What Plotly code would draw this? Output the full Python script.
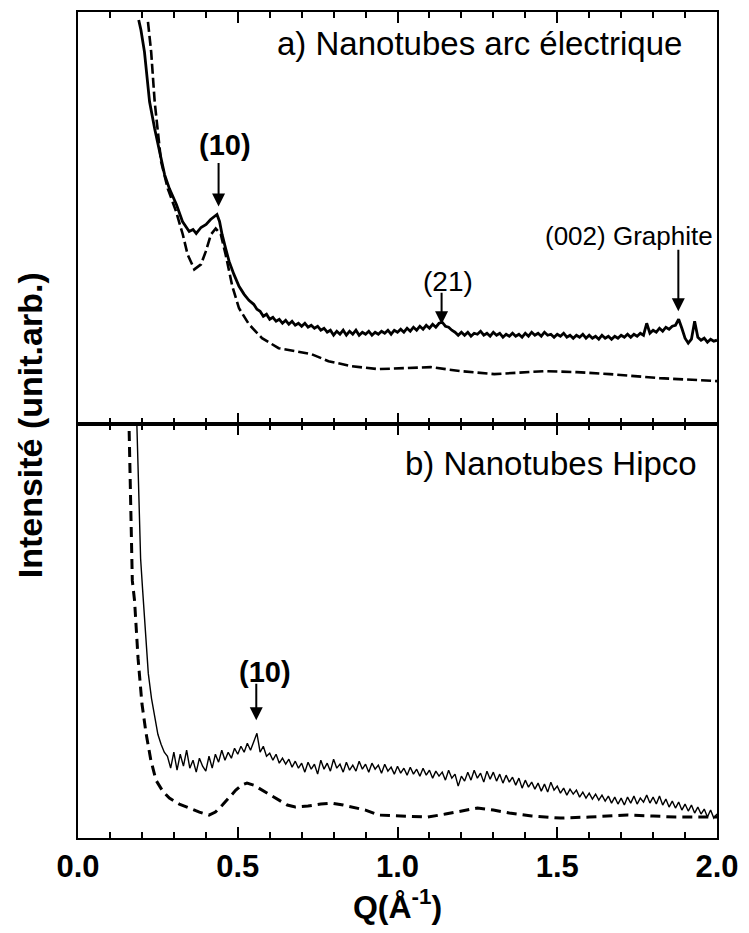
import plotly.graph_objects as go

# ---------------- DATA (arbitrary intensity units) ----------------
# Panel a) arc nanotubes : measured (solid, noisy) and calculated (dashed)
qa_solid_start = [0.190, 0.197, 0.208, 0.224, 0.240, 0.255, 0.271, 0.286, 0.308, 0.327,
                  0.348, 0.360, 0.370, 0.385, 0.401, 0.415, 0.426, 0.435, 0.443, 0.451,
                  0.462, 0.473, 0.488, 0.504, 0.520, 0.535]
ia_solid_start = [405, 395, 373, 323, 296, 273, 250, 236, 220, 203,
                  193, 195, 191, 197, 200, 205, 208, 210, 203, 190,
                  176, 163, 150, 138, 130, 124]
qa_solid_dense = [0.55, 0.56, 0.57, 0.58, 0.59, 0.60, 0.61, 0.62, 0.63, 0.64,
                  0.65, 0.66, 0.67, 0.68, 0.69, 0.70, 0.71, 0.72, 0.73, 0.74,
                  0.75, 0.76, 0.77, 0.78, 0.79, 0.80, 0.81, 0.82, 0.83, 0.84,
                  0.85, 0.86, 0.87, 0.88, 0.89, 0.90, 0.91, 0.92, 0.93, 0.94,
                  0.95, 0.96, 0.97, 0.98, 0.99, 1.00, 1.01, 1.02, 1.03, 1.04,
                  1.05, 1.06, 1.07, 1.08, 1.09, 1.10, 1.11, 1.12, 1.13, 1.14,
                  1.15, 1.16, 1.17, 1.18, 1.19, 1.20, 1.21, 1.22, 1.23, 1.24,
                  1.25, 1.26, 1.27, 1.28, 1.29, 1.30, 1.31, 1.32, 1.33, 1.34,
                  1.35, 1.36, 1.37, 1.38, 1.39, 1.40, 1.41, 1.42, 1.43, 1.44,
                  1.45, 1.46, 1.47, 1.48, 1.49, 1.50, 1.51, 1.52, 1.53, 1.54,
                  1.55, 1.56, 1.57, 1.58, 1.59, 1.60, 1.61, 1.62, 1.63, 1.64,
                  1.65, 1.66, 1.67, 1.68, 1.69, 1.70, 1.71, 1.72, 1.73, 1.74,
                  1.75, 1.76, 1.77, 1.78, 1.79, 1.80, 1.81, 1.82, 1.83, 1.84,
                  1.85, 1.86, 1.87, 1.88, 1.89, 1.90, 1.91, 1.92, 1.93, 1.94,
                  1.95, 1.96, 1.97, 1.98, 1.99, 2.00]
ia_solid_dense = [120, 115, 113, 108, 110, 105, 107, 103, 105, 101,
                  104, 100, 103, 99, 101, 98, 101, 97, 99, 96,
                  98, 94, 96, 92, 94, 89, 93, 90, 94, 89,
                  93, 90, 94, 89, 92, 90, 93, 89, 92, 90,
                  93, 91, 94, 90, 94, 92, 95, 92, 96, 93,
                  97, 94, 98, 95, 99, 96, 100, 97, 101, 102,
                  98, 97, 94, 92, 89, 92, 89, 92, 88, 91,
                  90, 93, 89, 91, 88, 92, 89, 91, 87, 90,
                  88, 91, 88, 90, 87, 91, 88, 92, 89, 91,
                  88, 92, 89, 90, 87, 90, 88, 91, 87, 89,
                  86, 89, 87, 90, 86, 89, 86, 88, 85, 89,
                  86, 88, 85, 88, 86, 89, 87, 90, 87, 90,
                  88, 91, 89, 101, 91, 94, 92, 96, 93, 97,
                  95, 98, 99, 105, 96, 86, 81, 85, 103, 87,
                  84, 86, 82, 85, 83, 84]
qa_dashed = [0.219, 0.229, 0.240, 0.250, 0.260, 0.281, 0.307, 0.328, 0.343, 0.364,
             0.385, 0.400, 0.416, 0.431, 0.447, 0.462, 0.483, 0.504, 0.535, 0.576,
             0.628, 0.681, 0.731, 0.784, 0.855, 0.939, 1.023, 1.104, 1.198, 1.303,
             1.459, 1.561, 1.664, 1.820, 2.000]
ia_dashed = [403, 373, 323, 290, 263, 236, 213, 190, 170, 155,
             160, 173, 190, 196, 190, 170, 138, 116, 100, 86,
             76, 73, 70, 63, 58, 55, 56, 57, 53, 50,
             53, 52, 50, 46, 43]

# Panel b) HiPco nanotubes
qb_solid_start = [0.182, 0.190, 0.196, 0.202, 0.208, 0.214, 0.220, 0.230, 0.240, 0.250,
                  0.260, 0.270]
ib_solid_start = [440, 340, 280, 250, 220, 190, 165, 140, 120, 104,
                  94, 86]
qb_solid_dense = [0.28, 0.29, 0.30, 0.31, 0.32, 0.33, 0.34, 0.35, 0.36, 0.37,
                  0.38, 0.39, 0.40, 0.41, 0.42, 0.43, 0.44, 0.45, 0.46, 0.47,
                  0.48, 0.49, 0.50, 0.51, 0.52, 0.53, 0.54, 0.55, 0.56, 0.57,
                  0.58, 0.59, 0.60, 0.61, 0.62, 0.63, 0.64, 0.65, 0.66, 0.67,
                  0.68, 0.69, 0.70, 0.71, 0.72, 0.73, 0.74, 0.75, 0.76, 0.77,
                  0.78, 0.79, 0.80, 0.81, 0.82, 0.83, 0.84, 0.85, 0.86, 0.87,
                  0.88, 0.89, 0.90, 0.91, 0.92, 0.93, 0.94, 0.95, 0.96, 0.97,
                  0.98, 0.99, 1.00, 1.01, 1.02, 1.03, 1.04, 1.05, 1.06, 1.07,
                  1.08, 1.09, 1.10, 1.11, 1.12, 1.13, 1.14, 1.15, 1.16, 1.17,
                  1.18, 1.19, 1.20, 1.21, 1.22, 1.23, 1.24, 1.25, 1.26, 1.27,
                  1.28, 1.29, 1.30, 1.31, 1.32, 1.33, 1.34, 1.35, 1.36, 1.37,
                  1.38, 1.39, 1.40, 1.41, 1.42, 1.43, 1.44, 1.45, 1.46, 1.47,
                  1.48, 1.49, 1.50, 1.51, 1.52, 1.53, 1.54, 1.55, 1.56, 1.57,
                  1.58, 1.59, 1.60, 1.61, 1.62, 1.63, 1.64, 1.65, 1.66, 1.67,
                  1.68, 1.69, 1.70, 1.71, 1.72, 1.73, 1.74, 1.75, 1.76, 1.77,
                  1.78, 1.79, 1.80, 1.81, 1.82, 1.83, 1.84, 1.85, 1.86, 1.87,
                  1.88, 1.89, 1.90, 1.91, 1.92, 1.93, 1.94, 1.95, 1.96, 1.97,
                  1.98, 1.99, 2.00]
ib_solid_dense = [82, 70, 86, 68, 84, 72, 88, 70, 78, 66,
                  80, 72, 67, 82, 70, 84, 76, 88, 78, 86,
                  80, 90, 84, 92, 86, 95, 88, 97, 105, 86,
                  92, 82, 85, 78, 84, 75, 80, 74, 79, 71,
                  77, 70, 75, 66, 76, 69, 74, 64, 78, 69,
                  75, 67, 79, 70, 74, 66, 76, 68, 73, 67,
                  77, 69, 74, 66, 75, 69, 73, 65, 74, 67,
                  71, 64, 72, 65, 70, 63, 71, 64, 69, 62,
                  70, 63, 68, 60, 67, 62, 66, 58, 68, 60,
                  64, 52, 62, 57, 66, 58, 68, 60, 65, 56,
                  67, 59, 66, 57, 64, 55, 63, 56, 61, 53,
                  60, 50, 58, 51, 56, 49, 55, 47, 54, 46,
                  56, 48, 52, 45, 50, 43, 49, 44, 48, 41,
                  46, 40, 45, 39, 44, 38, 43, 37, 42, 35,
                  41, 34, 40, 33, 41, 35, 42, 34, 40, 36,
                  43, 35, 41, 34, 42, 33, 39, 31, 37, 30,
                  36, 28, 34, 27, 33, 25, 31, 24, 29, 21,
                  28, 20, 24]
qb_dashed = [0.158, 0.164, 0.170, 0.177, 0.188, 0.200, 0.213, 0.228, 0.244, 0.265,
             0.286, 0.317, 0.348, 0.380, 0.410, 0.430, 0.452, 0.473, 0.494, 0.512,
             0.529, 0.550, 0.576, 0.600, 0.628, 0.655, 0.680, 0.720, 0.760, 0.794,
             0.830, 0.870, 0.900, 0.940, 1.000, 1.050, 1.095, 1.150, 1.200, 1.250,
             1.300, 1.350, 1.420, 1.510, 1.600, 1.720, 1.800, 1.870, 1.940, 2.000]
ib_dashed = [440, 340, 258, 238, 180, 135, 105, 78, 58, 47,
             40, 34, 30, 26, 23, 26, 33, 41, 48, 53,
             55, 53, 48, 43, 38, 33, 31, 32, 34, 35,
             33, 30, 28, 23, 22, 21, 21, 24, 27, 30,
             28, 25, 22, 20, 21, 23, 22, 21, 21, 21]

x_tickvals = [0.0, 0.5, 1.0, 1.5, 2.0]
x_ticktext = ["0.0", "0.5", "1.0", "1.5", "2.0"]

assert len(qa_solid_start) == len(ia_solid_start)
assert len(qa_solid_dense) == len(ia_solid_dense)
assert len(qa_dashed) == len(ia_dashed)
assert len(qb_solid_start) == len(ib_solid_start)
assert len(qb_solid_dense) == len(ib_solid_dense)
assert len(qb_dashed) == len(ib_dashed)

# ---------------- FIGURE ----------------
BLACK = "black"
FONT = "Liberation Sans, Arial, sans-serif"
SPLIT = 0.5012

fig = go.Figure()
fig.add_trace(go.Scatter(x=qa_solid_start + qa_solid_dense, y=ia_solid_start + ia_solid_dense,
                         mode="lines", line=dict(color=BLACK, width=2.8),
                         xaxis="x2", yaxis="y", showlegend=False))
fig.add_trace(go.Scatter(x=qa_dashed, y=ia_dashed, mode="lines",
                         line=dict(color=BLACK, width=2.6, dash="10px,4px"),
                         xaxis="x2", yaxis="y", showlegend=False))
fig.add_trace(go.Scatter(x=qb_solid_start + qb_solid_dense, y=ib_solid_start + ib_solid_dense,
                         mode="lines", line=dict(color=BLACK, width=1.4),
                         xaxis="x", yaxis="y2", showlegend=False))
fig.add_trace(go.Scatter(x=qb_dashed, y=ib_dashed, mode="lines",
                         line=dict(color=BLACK, width=3, dash="10px,6px"),
                         xaxis="x", yaxis="y2", showlegend=False))

xcommon = dict(range=[0, 2], tickvals=x_tickvals, ticktext=x_ticktext,
               ticks="inside", ticklen=11, tickwidth=2, tickcolor=BLACK,
               showline=True, linewidth=2, linecolor=BLACK, mirror="ticks",
               showgrid=False, zeroline=False,
               minor=dict(dtick=0.1, tick0=0, ticks="inside", ticklen=6,
                          tickwidth=2, tickcolor=BLACK, showgrid=False))
ycommon = dict(showline=True, linewidth=2, linecolor=BLACK, mirror=True,
               ticks="", showticklabels=False, showgrid=False, zeroline=False,
               fixedrange=True)

fig.update_layout(
    width=749, height=933,
    margin=dict(l=78, r=28, t=10, b=95),
    paper_bgcolor="white", plot_bgcolor="white",
    font=dict(family=FONT, color=BLACK),
    xaxis=dict(**xcommon, anchor="y2", domain=[0, 1],
               tickfont=dict(size=31, family=FONT, weight="bold"),
               title=dict(text="Q(Å<sup>-1</sup>)", standoff=10,
                          font=dict(size=32, family=FONT, weight="bold"))),
    xaxis2=dict(**xcommon, anchor="y", matches="x", showticklabels=False),
    yaxis=dict(**ycommon, domain=[SPLIT, 1], range=[0, 413]),
    yaxis2=dict(**ycommon, domain=[0, SPLIT], range=[0, 415]),
)

ann = []
# panel labels
ann.append(dict(text="a) Nanotubes arc électrique", xref="x2", yref="y", x=1.897, y=381,
                xanchor="right", yanchor="middle", showarrow=False,
                font=dict(size=33, family=FONT)))
ann.append(dict(text="b) Nanotubes Hipco", xref="x", yref="y2", x=1.944, y=375,
                xanchor="right", yanchor="middle", showarrow=False,
                font=dict(size=33, family=FONT)))
# peak labels
ann.append(dict(text="(10)", xref="x2", yref="y", x=0.46, y=280, showarrow=False,
                font=dict(size=29, family=FONT, weight="bold")))
ann.append(dict(text="(21)", xref="x2", yref="y", x=1.157, y=143, showarrow=False,
                font=dict(size=28, family=FONT)))
ann.append(dict(text="(002) Graphite", xref="x2", yref="y", x=1.723, y=188, showarrow=False,
                font=dict(size=26, family=FONT)))
ann.append(dict(text="(10)", xref="x", yref="y2", x=0.585, y=166, showarrow=False,
                font=dict(size=29, family=FONT, weight="bold")))
# arrows
for (xr, yr, xx, yy, ayy) in [("x2", "y", 0.44, 218, -45),
                              ("x2", "y", 1.138, 100, -33),
                              ("x2", "y", 1.879, 113, -63),
                              ("x", "y2", 0.558, 118, -38)]:
    ann.append(dict(text="", xref=xr, yref=yr, x=xx, y=yy, ax=0, ay=ayy,
                    showarrow=True, arrowhead=2, arrowsize=1.3, arrowwidth=2,
                    arrowcolor=BLACK, standoff=0, startstandoff=0))
# y title
ann.append(dict(text="Intensité (unit.arb.)", xref="paper", yref="paper",
                x=(30 - 78) / 643, y=0.5, xanchor="center", yanchor="middle",
                textangle=-90, showarrow=False,
                font=dict(size=34, family=FONT, weight="bold")))
fig.update_layout(annotations=ann)

fig.write_html("out.html")
